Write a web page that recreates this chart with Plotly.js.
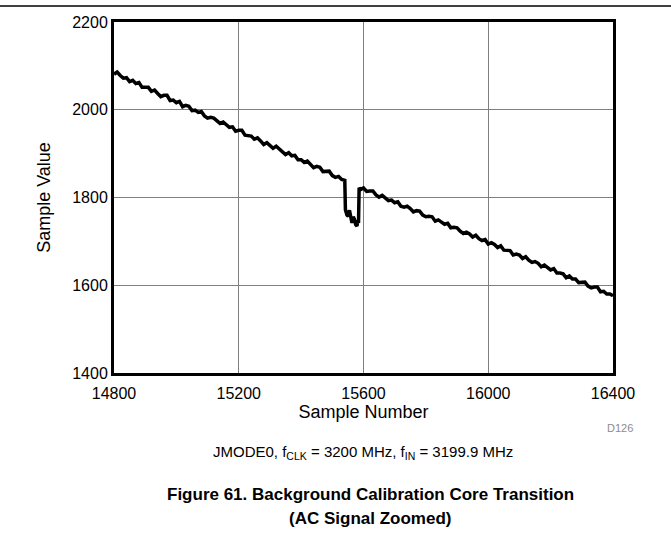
<!DOCTYPE html>
<html>
<head>
<meta charset="utf-8">
<script src="https://cdn.plot.ly/plotly-3.0.1.min.js"></script>
<style>
html,body{margin:0;padding:0;background:#fff;}
#chart{width:671px;height:538px;}
</style>
</head>
<body>
<div id="chart"></div>
<script>
// Samples before the core transition
const samplesBefore = [
14800,14810,14820,14830,14840,14850,14860,14870,14880,14890,
14900,14910,14920,14930,14940,14950,14960,14970,14980,14990,
15000,15010,15020,15030,15040,15050,15060,15070,15080,15090,
15100,15110,15120,15130,15140,15150,15160,15170,15180,15190,
15200,15210,15220,15230,15240,15250,15260,15270,15280,15290,
15300,15310,15320,15330,15340,15350,15360,15370,15380,15390,
15400,15410,15420,15430,15440,15450,15460,15470,15480,15490,
15500,15510,15520,15530,15540];
const valuesBefore = [
2081,2086,2078,2072,2073,2064,2067,2060,2062,2051,
2051,2051,2042,2045,2037,2030,2033,2033,2021,2022,
2016,2019,2007,2010,2008,1998,1999,1994,1996,1986,
1981,1983,1981,1974,1969,1972,1965,1960,1961,1951,
1953,1953,1942,1941,1940,1933,1936,1929,1921,1925,
1918,1912,1917,1911,1903,1898,1902,1895,1896,1886,
1886,1880,1883,1875,1868,1871,1869,1859,1860,1860,
1850,1846,1848,1841,1839];
// Samples during the transition (dip)
const samplesDip = [15542,15547,15551,15555,15559,15563,15567,15571,15575,15579,15582,15584];
const valuesDip  = [1772,1760,1757,1771,1750,1742,1756,1750,1738,1735,1748,1742];
// Samples after the transition
const samplesAfter = [
15586,15590,
15600,15610,15620,15630,15640,15650,15660,15670,15680,15690,
15700,15710,15720,15730,15740,15750,15760,15770,15780,15790,
15800,15810,15820,15830,15840,15850,15860,15870,15880,15890,
15900,15910,15920,15930,15940,15950,15960,15970,15980,15990,
16000,16010,16020,16030,16040,16050,16060,16070,16080,16090,
16100,16110,16120,16130,16140,16150,16160,16170,16180,16190,
16200,16210,16220,16230,16240,16250,16260,16270,16280,16290,
16300,16310,16320,16330,16340,16350,16360,16370,16380,16390,16400];
const valuesAfter = [
1822,1818,
1822,1814,1815,1815,1806,1801,1805,1800,1793,1794,
1788,1790,1780,1778,1780,1775,1767,1770,1769,1760,
1756,1757,1756,1746,1749,1744,1739,1741,1731,1732,
1731,1723,1718,1721,1717,1710,1714,1706,1702,1704,
1694,1697,1693,1686,1690,1680,1679,1679,1669,1671,
1669,1661,1665,1657,1652,1654,1650,1642,1646,1640,
1635,1638,1628,1628,1626,1617,1621,1614,1614,1606,
1607,1607,1598,1594,1596,1596,1585,1586,1580,1580,1576];

const xTickVals = [14800,15200,15600,16000,16400];
const xTickText = ['14800','15200','15600','16000','16400'];
const yTickVals = [1400,1600,1800,2000,2200];
const yTickText = ['1400','1600','1800','2000','2200'];

const xs = samplesBefore.concat(samplesDip, samplesAfter);
const ys = valuesBefore.concat(valuesDip, valuesAfter);

const FONT = 'Liberation Sans, Arial, Helvetica, sans-serif';

const trace = {
  x: xs, y: ys, type: 'scatter', mode: 'lines',
  line: {color: '#000', width: 3.5},
  hoverinfo: 'skip'
};

// pixel helpers for the plot area
const L = 114, R = 613, T = 22, B = 373;
const px = v => (v - L) / (R - L);
const py = v => (B - v) / (B - T);

const layout = {
  width: 671, height: 538,
  margin: {l: L, r: 671 - R, t: T, b: 538 - B, pad: 0},
  paper_bgcolor: '#fff', plot_bgcolor: '#fff',
  showlegend: false,
  font: {family: FONT, color: '#000', size: 16},
  xaxis: {
    range: [14800, 16400], tickvals: xTickVals, ticktext: xTickText,
    showgrid: true, gridcolor: '#7f7f7f', gridwidth: 1,
    showline: true, linecolor: '#000', linewidth: 3, mirror: true,
    ticks: '', zeroline: false, ticklabelstandoff: 4,
    tickfont: {family: FONT, size: 16, color: '#000'},
    title: {text: 'Sample Number', font: {family: FONT, size: 18, color: '#000'}, standoff: 3}
  },
  yaxis: {
    range: [1400, 2200], tickvals: yTickVals, ticktext: yTickText,
    showgrid: true, gridcolor: '#7f7f7f', gridwidth: 1,
    showline: true, linecolor: '#000', linewidth: 3, mirror: true,
    ticks: '', zeroline: false,
    tickfont: {family: FONT, size: 16, color: '#000'},
    title: {text: 'Sample Value', font: {family: FONT, size: 18, color: '#000'}, standoff: 17}
  },
  shapes: [{
    type: 'line', xref: 'paper', yref: 'paper',
    x0: px(0), x1: px(671), y0: py(6), y1: py(6),
    line: {color: '#000', width: 1.5}
  }],
  annotations: [
    {text: 'D126', xref: 'paper', yref: 'paper', x: px(620), y: py(428),
     xanchor: 'center', yanchor: 'middle', showarrow: false,
     font: {family: FONT, size: 11, color: '#8c8c8c'}},
    {text: 'JMODE0, f<sub>CLK</sub> = 3200 MHz, f<sub>IN</sub> = 3199.9 MHz',
     xref: 'paper', yref: 'paper', x: px(363), y: py(452),
     xanchor: 'center', yanchor: 'middle', showarrow: false,
     font: {family: FONT, size: 15, color: '#000'}},
    {text: '<b>Figure 61. Background Calibration Core Transition</b>',
     xref: 'paper', yref: 'paper', x: px(370), y: py(494),
     xanchor: 'center', yanchor: 'middle', showarrow: false,
     font: {family: FONT, size: 17, color: '#000'}},
    {text: '<b>(AC Signal Zoomed)</b>',
     xref: 'paper', yref: 'paper', x: px(370), y: py(518),
     xanchor: 'center', yanchor: 'middle', showarrow: false,
     font: {family: FONT, size: 17, color: '#000'}}
  ]
};

Plotly.newPlot('chart', [trace], layout, {displayModeBar: false, staticPlot: true});
</script>
</body>
</html>
